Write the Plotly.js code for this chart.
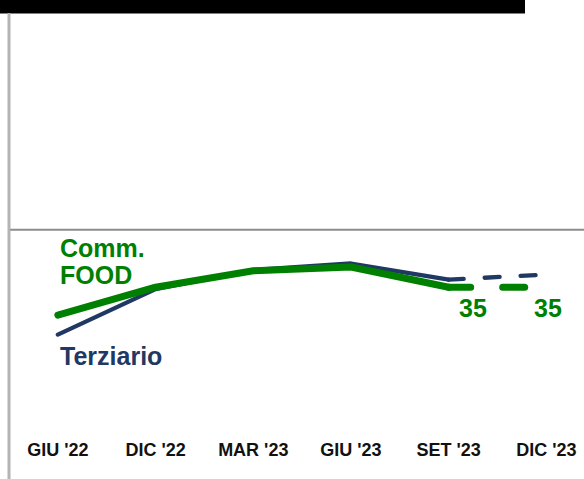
<!DOCTYPE html>
<html>
<head>
<meta charset="utf-8">
<script src="https://cdn.plot.ly/plotly-3.0.1.min.js"></script>
<style>
  html, body { margin: 0; padding: 0; background: #ffffff; }
  #chart { width: 584px; height: 479px; }
  .js-line { stroke-linecap: round !important; stroke-linejoin: round !important; }
</style>
</head>
<body>
<div id="chart"></div>
<script>
// ---- data ----
const categories = ["GIU '22", "DIC '22", "MAR '23", "GIU '23", "SET '23", "DIC '23"];
const terziario = [22.6, 34.5, 39.5, 41.2, 37.0, null];
const terziarioProj = [null, null, null, null, 37.0, 38.3];
const commFood = [27.7, 35.0, 39.3, 40.3, 35.0, null];
const commFoodProj = [null, null, null, null, 35.0, 35.0];
const foodLabels = ["35", "35"];
const seriesNames = ["Terziario", "Comm.", "FOOD"];

const NAVY = "#1f3864";
const GREEN = "#008000";
const FONT = "Arial, 'Liberation Sans', sans-serif";

const traces = [
  { x: categories, y: terziario, type: "scatter", mode: "lines",
    line: { color: NAVY, width: 4.3 }, hoverinfo: "skip", showlegend: false },
  { x: categories, y: terziarioProj, type: "scatter", mode: "lines",
    line: { color: NAVY, width: 4.3, dash: "15px,21px" }, hoverinfo: "skip", showlegend: false },
  { x: categories, y: commFood, type: "scatter", mode: "lines",
    line: { color: GREEN, width: 7 }, hoverinfo: "skip", showlegend: false },
  { x: categories, y: commFoodProj, type: "scatter", mode: "lines",
    line: { color: GREEN, width: 7, dash: "22px,32px" }, hoverinfo: "skip", showlegend: false }
];

const layout = {
  width: 584, height: 479,
  margin: { l: 9, r: 0, t: 14, b: 58.3, pad: 0 },
  paper_bgcolor: "#ffffff", plot_bgcolor: "#ffffff",
  showlegend: false,
  xaxis: {
    type: "category", range: [-0.5, 5.385], showgrid: false, zeroline: false,
    showline: false, ticks: "", automargin: false,
    tickfont: { family: FONT, size: 18, color: "#111111", weight: "bold" },
    ticklabelstandoff: 16
  },
  yaxis: {
    range: [0, 106.47], showgrid: false, zeroline: false, showline: false,
    showticklabels: false, ticks: "", automargin: false
  },
  shapes: [
    { type: "rect", xref: "paper", yref: "paper", x0: -0.0157, x1: 0.8974, y0: 1.0012, y1: 1.04,
      fillcolor: "#000000", line: { width: 0 } },
    { type: "line", xref: "paper", yref: "paper", x0: 0, x1: 0, y0: 1.0025, y1: -0.15,
      line: { color: "#b4b4b4", width: 3 } },
    { type: "line", xref: "paper", yref: "y", x0: 0.002, x1: 1, y0: 50, y1: 50,
      line: { color: "#8c8c8c", width: 2 } }
  ],
  annotations: [
    { x: 0.0, y: 45.2, xref: "x", yref: "y", text: seriesNames[1], showarrow: false,
      xanchor: "left", yanchor: "middle", font: { family: FONT, size: 25, color: GREEN, weight: "bold" } },
    { x: 0.0, y: 38.1, xref: "x", yref: "y", text: seriesNames[2], showarrow: false,
      xanchor: "left", yanchor: "middle", font: { family: FONT, size: 25, color: GREEN, weight: "bold" } },
    { x: 0.0, y: 17.0, xref: "x", yref: "y", text: seriesNames[0], showarrow: false,
      xanchor: "left", yanchor: "middle", font: { family: FONT, size: 25, color: NAVY, weight: "bold" } },
    { x: 4.25, y: 29.5, xref: "x", yref: "y", text: foodLabels[0], showarrow: false,
      xanchor: "center", yanchor: "middle", font: { family: FONT, size: 25, color: GREEN, weight: "bold" } },
    { x: 5.02, y: 29.5, xref: "x", yref: "y", text: foodLabels[1], showarrow: false,
      xanchor: "center", yanchor: "middle", font: { family: FONT, size: 25, color: GREEN, weight: "bold" } }
  ]
};

Plotly.newPlot("chart", traces, layout, { staticPlot: true, displayModeBar: false });
</script>
</body>
</html>
